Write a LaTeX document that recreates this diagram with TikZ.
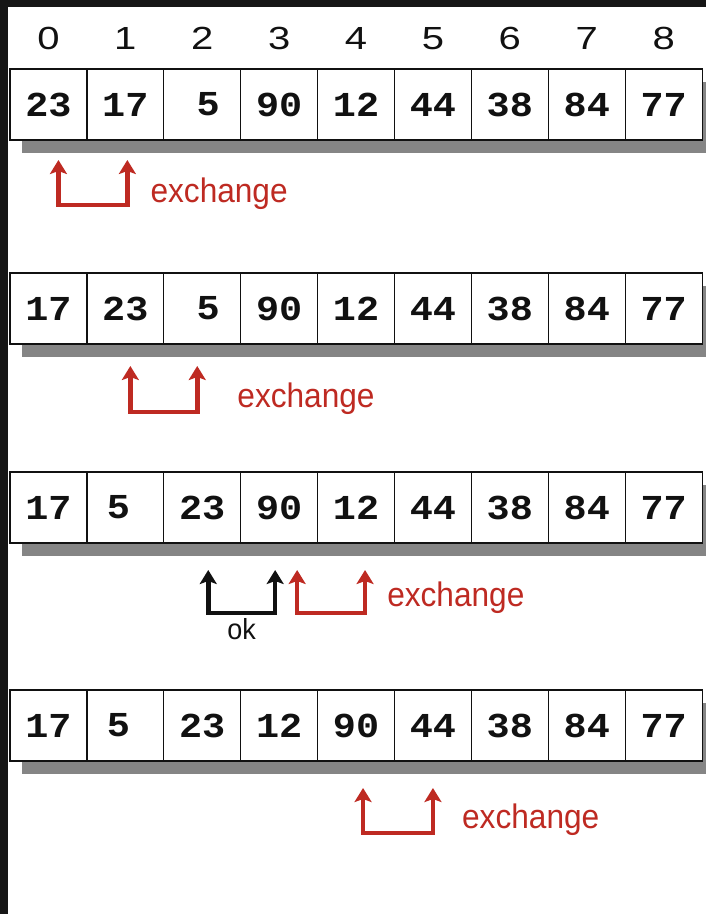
\documentclass[tikz,border=0pt]{standalone}
\usepackage{fontspec}
\setmainfont{Liberation Sans}
\newfontfamily\idxfont{Liberation Sans}[FakeStretch=1.25]
\newfontfamily\valfont{Liberation Mono}[FakeStretch=1.1]
\newfontfamily\lblfont{Liberation Sans}[FakeStretch=0.93]
\usepackage{xcolor}
\definecolor{bsred}{HTML}{BE2A22}
\definecolor{bsshadow}{HTML}{858585}
\definecolor{bsframe}{HTML}{161616}
\definecolor{bsink}{HTML}{111111}
\usepackage{tikz}
\usetikzlibrary{arrows.meta, positioning, shadows, fit, backgrounds}

\begin{document}
\begin{tikzpicture}[
  x=1pt, y=-1pt,
  cell/.style={rectangle, draw=bsink, line width=1.2pt, fill=white,
               minimum width=76.9pt, minimum height=71pt,
               inner sep=0pt, outer sep=0pt, text=bsink,
               font=\valfont\bfseries\fontsize{35pt}{35pt}\selectfont},
  rowbg/.style={rectangle, fill=white, inner sep=0pt,
                drop shadow={shadow xshift=12pt, shadow yshift=-13pt,
                             fill=bsshadow, opacity=1}},
  idx/.style={inner sep=0pt, text=bsink,
              font=\idxfont\fontsize{32pt}{32pt}\selectfont},
  exlabel/.style={inner sep=0pt, text=bsred,
                  font=\lblfont\fontsize{34pt}{34pt}\selectfont},
  oklabel/.style={inner sep=0pt, text=bsink,
                  font=\lblfont\fontsize{29pt}{29pt}\selectfont},
  swaparr/.style={{Stealth[length=14pt, width=17pt, inset=3pt]}-{Stealth[length=14pt, width=17pt, inset=3pt]},
                  line width=4.5pt, color=bsred},
  okarr/.style={swaparr, color=bsink}
]
  % frame
  \useasboundingbox (0,0) rectangle (706,914);
  \begin{scope}[on background layer]
    \fill[bsframe] (0,0) rectangle (706,914);
    \fill[white] (8,7) rectangle (706,914);
  \end{scope}

  % row 1
  \node[cell] (r1c0) at (48.45,104.5) {23};
  \node[cell, right=0pt of r1c0] (r1c1) {17};
  \node[cell, right=0pt of r1c1] (r1c2) {\hspace*{12pt}5};
  \node[cell, right=0pt of r1c2] (r1c3) {90};
  \node[cell, right=0pt of r1c3] (r1c4) {12};
  \node[cell, right=0pt of r1c4] (r1c5) {44};
  \node[cell, right=0pt of r1c5] (r1c6) {38};
  \node[cell, right=0pt of r1c6] (r1c7) {84};
  \node[cell, right=0pt of r1c7] (r1c8) {77};
  \begin{scope}[on background layer]
    \node[rowbg, fit=(r1c0)(r1c8)] (row1) {};
  \end{scope}

  % indices
  \node[idx, above=19pt of r1c0] (i0) {0};
  \node[idx, above=19pt of r1c1] (i1) {1};
  \node[idx, above=19pt of r1c2] (i2) {2};
  \node[idx, above=19pt of r1c3] (i3) {3};
  \node[idx, above=19pt of r1c4] (i4) {4};
  \node[idx, above=19pt of r1c5] (i5) {5};
  \node[idx, above=19pt of r1c6] (i6) {6};
  \node[idx, above=19pt of r1c7] (i7) {7};
  \node[idx, above=19pt of r1c8] (i8) {8};

  \coordinate[below=20pt of r1c0.south, xshift=10pt] (s1a);
  \coordinate[below=20pt of r1c1.south, xshift=2pt] (s1b);
  \draw[swaparr] (s1a) -- ++(0,45) -| (s1b);
  \node[exlabel, right=23pt of s1b, yshift=-34pt] (x1) {exchange};

  % row 2
  \node[cell, below=133pt of r1c0] (r2c0) {17};
  \node[cell, right=0pt of r2c0] (r2c1) {23};
  \node[cell, right=0pt of r2c1] (r2c2) {\hspace*{12pt}5};
  \node[cell, right=0pt of r2c2] (r2c3) {90};
  \node[cell, right=0pt of r2c3] (r2c4) {12};
  \node[cell, right=0pt of r2c4] (r2c5) {44};
  \node[cell, right=0pt of r2c5] (r2c6) {38};
  \node[cell, right=0pt of r2c6] (r2c7) {84};
  \node[cell, right=0pt of r2c7] (r2c8) {77};
  \begin{scope}[on background layer]
    \node[rowbg, fit=(r2c0)(r2c8)] (row2) {};
  \end{scope}

  \coordinate[below=22pt of r2c1.south, xshift=5pt] (s2a);
  \coordinate[below=22pt of r2c2.south, xshift=-5pt] (s2b);
  \draw[swaparr] (s2a) -- ++(0,46) -| (s2b);
  \node[exlabel, right=40pt of s2b, yshift=-33pt] (x2) {exchange};

  % row 3
  \node[cell, below=128pt of r2c0] (r3c0) {17};
  \node[cell, right=0pt of r3c0] (r3c1) {5\hspace*{14pt}};
  \node[cell, right=0pt of r3c1] (r3c2) {23};
  \node[cell, right=0pt of r3c2] (r3c3) {90};
  \node[cell, right=0pt of r3c3] (r3c4) {12};
  \node[cell, right=0pt of r3c4] (r3c5) {44};
  \node[cell, right=0pt of r3c5] (r3c6) {38};
  \node[cell, right=0pt of r3c6] (r3c7) {84};
  \node[cell, right=0pt of r3c7] (r3c8) {77};
  \begin{scope}[on background layer]
    \node[rowbg, fit=(r3c0)(r3c8)] (row3) {};
  \end{scope}

  \coordinate[below=27pt of r3c2.south, xshift=6pt] (k3a);
  \coordinate[below=27pt of r3c3.south, xshift=-4pt] (k3b);
  \draw[okarr] (k3a) -- ++(0,43) -| node[oklabel, pos=0.25, below=3pt] (ok3) {ok} (k3b);

  \coordinate[below=27pt of r3c3.south, xshift=18pt] (s3a);
  \coordinate[below=27pt of r3c4.south, xshift=9pt] (s3b);
  \draw[swaparr] (s3a) -- ++(0,43) -| (s3b);
  \node[exlabel, right=22pt of s3b, yshift=-28pt] (x3) {exchange};

  % row 4
  \node[cell, below=147pt of r3c0] (r4c0) {17};
  \node[cell, right=0pt of r4c0] (r4c1) {5\hspace*{14pt}};
  \node[cell, right=0pt of r4c1] (r4c2) {23};
  \node[cell, right=0pt of r4c2] (r4c3) {12};
  \node[cell, right=0pt of r4c3] (r4c4) {90};
  \node[cell, right=0pt of r4c4] (r4c5) {44};
  \node[cell, right=0pt of r4c5] (r4c6) {38};
  \node[cell, right=0pt of r4c6] (r4c7) {84};
  \node[cell, right=0pt of r4c7] (r4c8) {77};
  \begin{scope}[on background layer]
    \node[rowbg, fit=(r4c0)(r4c8)] (row4) {};
  \end{scope}

  \coordinate[below=27pt of r4c4.south, xshift=7pt] (s4a);
  \coordinate[below=27pt of r4c5.south, xshift=0pt] (s4b);
  \draw[swaparr] (s4a) -- ++(0,45) -| (s4b);
  \node[exlabel, right=29pt of s4b, yshift=-32pt] (x4) {exchange};
\end{tikzpicture}
\end{document}
